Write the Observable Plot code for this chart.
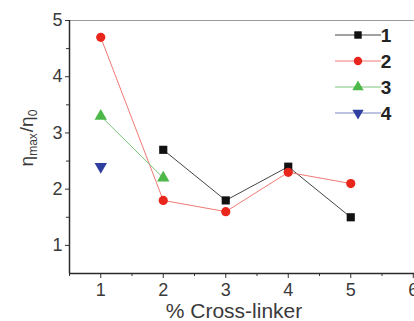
<!DOCTYPE html>
<html><head><meta charset="utf-8">
<script src="https://cdn.jsdelivr.net/npm/d3@7"></script>
<script src="https://cdn.jsdelivr.net/npm/@observablehq/plot@0.6"></script>
<style>
html,body{margin:0;padding:0;background:#fff;overflow:hidden;width:414px;height:321px;}
#chart svg{max-width:none !important;display:block;}
</style></head>
<body><div id="chart"></div>
<script>
const crossLinker = [1, 2, 3, 4, 5];
const series1 = [null, 2.7, 1.8, 2.4, 1.5];
const series2 = [4.7, 1.8, 1.6, 2.3, 2.1];
const series3 = [3.3, 2.2, null, null, null];
const series4 = [2.4, null, null, null, null];
const seriesNames = ["1", "2", "3", "4"];
const seriesValues = [series1, series2, series3, series4];
const markerColors = ["#111111", "#e8261c", "#4cb848", "#2f3f9f"];
const lineColors = ["#444444", "#f07a74", "#7cc37a", "#7f86c4"];
const symbols = ["square", "circle", "triangle", "triangle"];
const rotations = [0, 0, 0, 180];
const xMajor = [1, 2, 3, 4, 5, 6];
const xMinor = [0.5, 1.5, 2.5, 3.5, 4.5, 5.5];
const yMajor = [1, 2, 3, 4, 5];
const yMinor = [1.5, 2.5, 3.5, 4.5];

const rows = [];
seriesValues.forEach((vals, si) => {
  vals.forEach((v, i) => { if (v != null) rows.push({x: crossLinker[i], y: v, s: si}); });
});

const font = "'Liberation Sans', Arial, sans-serif";
const marks = [];
seriesValues.forEach((vals, si) => {
  const d = rows.filter(r => r.s === si);
  if (d.length > 1) marks.push(Plot.line(d, {x: "x", y: "y", stroke: lineColors[si], strokeWidth: 1}));
});
seriesValues.forEach((vals, si) => {
  const d = rows.filter(r => r.s === si);
  marks.push(Plot.dot(d, {x: "x", y: "y", symbol: symbols[si], fill: markerColors[si], stroke: "none",
    r: 4.6, rotate: rotations[si]}));
});

const intFmt = d => String(d);
const plot = Plot.plot({
  width: 445, height: 321,
  marginLeft: 69, marginRight: 1, marginTop: 20, marginBottom: 48,
  style: {fontFamily: font, background: "white", maxWidth: "none"},
  x: {domain: [0.5, 6.5], axis: null},
  y: {domain: [0.5, 5], axis: null},
  marks: [
    Plot.ruleY([5], {stroke: "#9a9a9a", strokeWidth: 1}),
    Plot.axisX(xMinor, {tickSize: 3, tickFormat: () => "", label: null, stroke: "#333"}),
    Plot.axisX(xMajor, {tickSize: 5, tickPadding: 5, fontSize: 18, tickFormat: intFmt, label: null, stroke: "#333", fill: "#3a3a3a"}),
    Plot.axisY(yMinor, {tickSize: 3, tickFormat: () => "", label: null, stroke: "#333"}),
    Plot.axisY(yMajor, {tickSize: 4, tickPadding: 3, fontSize: 18, tickFormat: intFmt, label: null, stroke: "#333", fill: "#3a3a3a"}),
    Plot.ruleX([0.5], {stroke: "#2a2a2a", strokeWidth: 1.5}),
    Plot.ruleY([0.5], {stroke: "#2a2a2a", strokeWidth: 1.5}),
    ...marks
  ]
});
document.getElementById("chart").appendChild(plot);

const svg = d3.select(plot);
svg.append("text").attr("x", 234).attr("y", 318).attr("text-anchor", "middle")
  .attr("font-family", font).attr("font-size", 21).attr("fill", "#3a3a3a").text("% Cross-linker");
const yl = svg.append("text").attr("transform", "translate(33,138) rotate(-90)").attr("text-anchor", "middle")
  .attr("font-family", font).attr("font-size", 19).attr("fill", "#3a3a3a");
yl.append("tspan").text("η");
yl.append("tspan").attr("font-size", 12).attr("dy", 4).text("max");
yl.append("tspan").attr("dy", -4).attr("dx", 1).text("/η");
yl.append("tspan").attr("font-size", 12).attr("dy", 4).text("0");

const legendRowsY = [35, 61, 87, 113];
seriesNames.forEach((name, si) => {
  const g = svg.append("g").attr("transform", `translate(0,${legendRowsY[si]})`);
  g.append("line").attr("x1", 335).attr("x2", 381).attr("y1", 0).attr("y2", 0)
    .attr("stroke", lineColors[si]).attr("stroke-width", 1);
  const sym = symbols[si] === "square" ? d3.symbolSquare : symbols[si] === "circle" ? d3.symbolCircle : d3.symbolTriangle;
  g.append("path").attr("d", d3.symbol(sym, Math.PI * 4.2 * 4.2)())
    .attr("transform", `translate(358,0) rotate(${rotations[si]})`).attr("fill", markerColors[si]);
  g.append("text").attr("x", 386).attr("y", 7).attr("font-family", font).attr("font-size", 19)
    .attr("font-weight", "bold").attr("fill", "#222").text(name);
});
</script></body></html>
